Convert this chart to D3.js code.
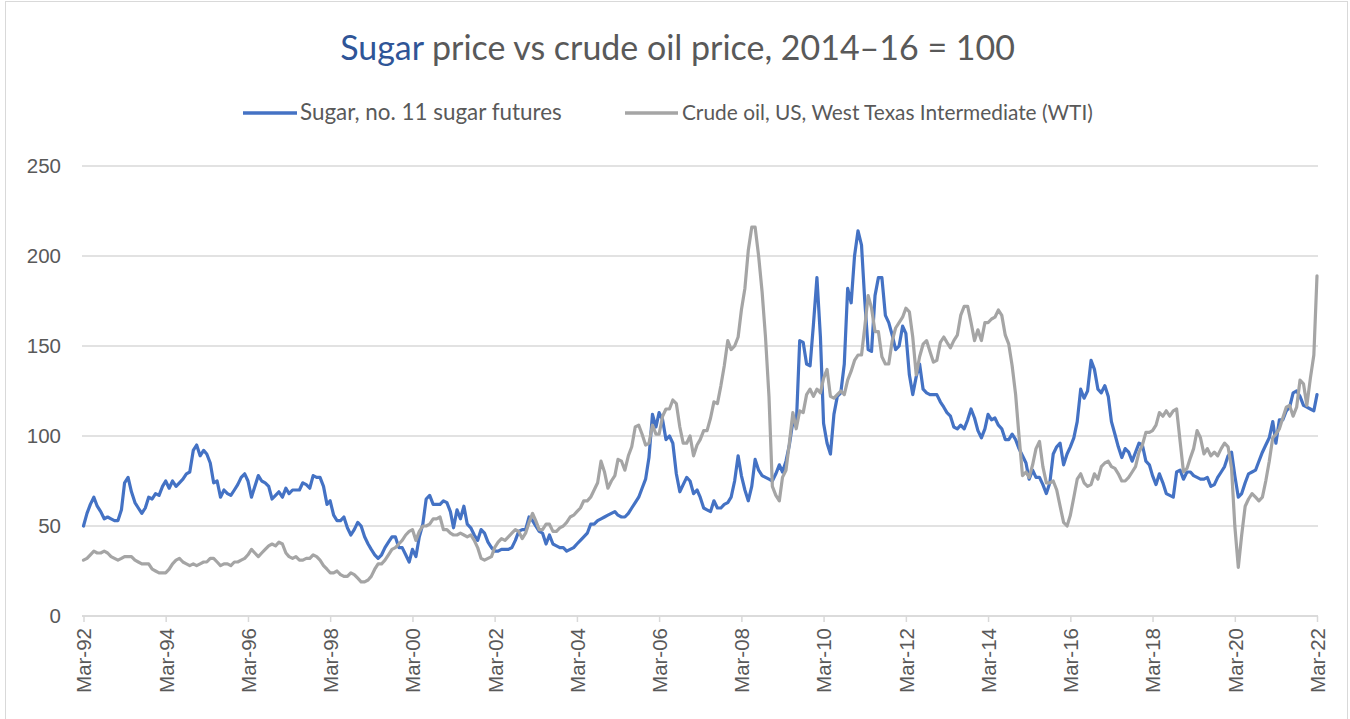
<!DOCTYPE html>
<html>
<head>
<meta charset="utf-8">
<script src="https://cdn.jsdelivr.net/npm/d3@7"></script>
<style>
  body { margin: 0; background: #ffffff; }
  svg { display: block; }
</style>
</head>
<body>
<svg id="chart" width="1350" height="719"></svg>
<script>
// Monthly index values (2014–16 = 100), first month Mar-92, last month Mar-22
const startYear = 1992;
const startMonthIndex = 2; // March

const sugar = [
  50, 57, 62, 66, 61, 58, 54, 55, 54, 53, 53, 59,
  74, 77, 69, 63, 60, 57, 60, 66, 65, 68, 67, 72,
  75, 71, 75, 72, 74, 76, 79, 80, 92, 95, 89, 92,
  90, 85, 74, 75, 66, 70, 68, 67, 70, 73, 77, 79,
  75, 66, 72, 78, 75, 74, 72, 65, 67, 69, 66, 71,
  68, 70, 70, 70, 74, 73, 71, 78, 77, 77, 72, 62,
  64, 56, 53, 53, 55, 49, 45, 48, 52, 50, 44, 40,
  37, 34, 32, 34, 38, 41, 44, 44, 38, 38, 34, 30,
  37, 33, 44, 51, 65, 67, 62, 62, 62, 64, 63, 58,
  49, 59, 54, 61, 51, 49, 45, 42, 48, 46, 41, 38,
  36, 36, 37, 37, 37, 38, 42, 47, 48, 48, 55, 53,
  50, 47, 46, 40, 45, 40, 39, 38, 38, 36, 37, 38,
  40, 42, 44, 46, 51, 51, 53, 54, 55, 56, 57, 58,
  56, 55, 55, 57, 60, 63, 66, 71, 76, 88, 112, 105,
  113, 109, 98, 100, 96, 79, 69, 73, 77, 75, 68, 70,
  66, 60, 59, 58, 64, 60, 60, 62, 63, 66, 75, 89,
  78, 70, 64, 72, 87, 81, 78, 77, 76, 75, 79, 84,
  80, 86, 95, 108, 105, 153, 152, 140, 139, 162, 188, 155,
  107, 96, 90, 112, 122, 124, 140, 182, 174, 200, 214, 206,
  176, 148, 147, 178, 188, 188, 167, 163, 156, 148, 150, 161,
  157, 134, 123, 133, 140, 126, 124, 123, 123, 123, 119, 116,
  113, 111, 105, 104, 106, 104, 109, 115, 110, 103, 99, 104,
  112, 109, 110, 106, 104, 98, 98, 101, 98, 93, 89, 85,
  76, 81, 77, 77, 73, 68, 74, 90, 94, 96, 84, 90,
  94, 99, 108, 126, 121, 125, 142, 137, 126, 124, 128, 122,
  108, 101, 94, 88, 93, 91, 86, 91, 96, 95, 86, 84,
  78, 73, 79, 74, 68, 67, 66, 80, 81, 76, 80, 80,
  78, 77, 76, 76, 77, 72, 73, 77, 80, 83, 89, 91,
  78, 66, 68, 74, 79, 80, 81, 86, 91, 95, 99, 108,
  96, 109, 109, 114, 116, 124, 125, 122, 117, 116, 115, 114,
  123
];

const oil = [
  31, 32, 34, 36, 35, 35, 36, 35, 33, 32, 31, 32,
  33, 33, 33, 31, 30, 29, 29, 29, 26, 25, 24, 24,
  24, 26, 29, 31, 32, 30, 29, 28, 29, 28, 29, 30,
  30, 32, 32, 30, 28, 29, 29, 28, 30, 30, 31, 32,
  34, 37, 35, 33, 35, 37, 39, 40, 39, 41, 40, 35,
  33, 32, 33, 31, 31, 32, 32, 34, 33, 31, 28, 26,
  24, 24, 25, 23, 22, 22, 24, 23, 21, 19, 19, 20,
  22, 26, 29, 29, 31, 34, 37, 38, 40, 42, 45, 47,
  48, 42, 47, 50, 50, 51, 54, 54, 55, 48, 48, 46,
  45, 45, 46, 45, 44, 45, 42, 38, 32, 31, 32, 33,
  38, 41, 43, 42, 44, 46, 48, 47, 43, 46, 52, 57,
  53, 48, 48, 51, 51, 47, 47, 49, 50, 52, 55, 56,
  58, 60, 64, 64, 66, 70, 74, 86, 80, 71, 75, 78,
  87, 86, 81, 89, 94, 105, 106, 101, 95, 96, 106, 101,
  101, 111, 115, 115, 120, 118, 105, 96, 96, 100, 89, 95,
  98, 103, 103, 110, 119, 118, 128, 139, 153, 148, 150, 155,
  170, 182, 203, 216, 216, 200, 180, 155, 122, 72, 67, 64,
  77, 81, 96, 113, 104, 114, 113, 123, 126, 122, 126, 124,
  132, 137, 122, 121, 123, 125, 123, 131, 136, 142, 145, 145,
  160, 178, 171, 158, 158, 144, 140, 140, 153, 160, 163, 166,
  171, 169, 155, 134, 144, 151, 153, 147, 141, 142, 152, 155,
  152, 149, 153, 156, 167, 172, 172, 163, 153, 159, 153, 163,
  163, 165, 166, 170, 167, 156, 151, 139, 123, 100, 78, 80,
  77, 84, 93, 97, 83, 74, 74, 75, 70, 61, 52, 50,
  56, 66, 76, 79, 74, 72, 73, 79, 76, 83, 85, 86,
  83, 82, 79, 75, 75, 77, 80, 83, 91, 95, 102, 102,
  103, 106, 113, 111, 114, 111, 114, 115, 97, 80, 82, 88,
  93, 103, 99, 90, 93, 89, 91, 89, 93, 96, 94, 82,
  50, 27, 45, 61, 65, 68, 66, 64, 66, 75, 86, 99,
  101, 104, 110, 116, 117, 111, 116, 131, 129, 117, 132, 145,
  189
];

const yTicks = [0, 50, 100, 150, 200, 250];
const xTickLabels = ["Mar-92", "Mar-94", "Mar-96", "Mar-98", "Mar-00", "Mar-02", "Mar-04", "Mar-06",
                     "Mar-08", "Mar-10", "Mar-12", "Mar-14", "Mar-16", "Mar-18", "Mar-20", "Mar-22"];
const seriesNames = ["Sugar, no. 11 sugar futures", "Crude oil, US, West Texas Intermediate (WTI)"];
const seriesColors = ["#4472C4", "#A5A5A5"];
const titleHighlight = "Sugar";
const titleRest = " price vs crude oil price, 2014\u201316 = 100";

const textColor = "#595959";
const gridColor = "#D9D9D9";
const uiFont = "Lato, 'Open Sans', sans-serif";
const axisFont = "'Liberation Sans', Arial, sans-serif";

const svg = d3.select("#chart");

// Outer chart frame
svg.append("rect")
  .attr("x", 5.5).attr("y", 1.5)
  .attr("width", 1342).attr("height", 760)
  .attr("fill", "none").attr("stroke", gridColor).attr("stroke-width", 1);

const months = sugar.map((_, i) => new Date(startYear, startMonthIndex + i, 1));

const x = d3.scaleTime()
  .domain([months[0], months[months.length - 1]])
  .range([83.5, 1317]);
const y = d3.scaleLinear().domain([0, 250]).range([616, 166]);

const plotLeft = 82, plotRight = 1318;

// Horizontal gridlines
svg.append("g").selectAll("line")
  .data(yTicks)
  .join("line")
  .attr("x1", plotLeft).attr("x2", plotRight)
  .attr("y1", d => y(d)).attr("y2", d => y(d))
  .attr("stroke", gridColor).attr("stroke-width", 1.5);

// Y axis labels
const yAxis = d3.axisLeft(y).tickValues(yTicks).tickSize(0).tickPadding(0);
const yG = svg.append("g").attr("transform", "translate(61,0)").call(yAxis);
yG.select(".domain").remove();
yG.selectAll("text")
  .attr("font-family", axisFont).attr("font-size", 20.5)
  .attr("fill", textColor).attr("dy", "0.34em");

// X axis: ticks every two years, labels rotated
const xTickValues = xTickLabels.map((_, k) => new Date(startYear + 2 * k, startMonthIndex, 1));
const xAxis = d3.axisBottom(x)
  .tickValues(xTickValues)
  .tickFormat((d, k) => xTickLabels[k])
  .tickSize(6).tickPadding(0);
const xG = svg.append("g").attr("transform", "translate(0,616)").call(xAxis);
xG.select(".domain").attr("stroke", gridColor).attr("stroke-width", 1.5)
  .attr("d", `M${plotLeft},0H${plotRight}`);
xG.selectAll(".tick line").attr("stroke", gridColor).attr("stroke-width", 1.5);
xG.selectAll("text")
  .attr("font-family", axisFont).attr("font-size", 20.5)
  .attr("fill", textColor)
  .attr("text-anchor", "end")
  .attr("transform", "rotate(-90)")
  .attr("x", -12).attr("y", 0).attr("dy", "0.36em");

// Series lines
const line = d3.line()
  .x((d, i) => x(months[i]))
  .y(d => y(d));

[sugar, oil].forEach((values, k) => {
  svg.append("path")
    .datum(values)
    .attr("fill", "none")
    .attr("stroke", seriesColors[k])
    .attr("stroke-width", 3.2)
    .attr("stroke-linejoin", "round")
    .attr("stroke-linecap", "round")
    .attr("d", line);
});

// Size a text element so that it spans a given width
function fitWidth(sel, target) {
  const w = sel.node().getComputedTextLength();
  const fs = parseFloat(sel.attr("font-size"));
  sel.attr("font-size", fs * target / w);
}

// Title
const title = svg.append("text")
  .attr("x", 677.5).attr("y", 60)
  .attr("text-anchor", "middle")
  .attr("font-family", uiFont).attr("font-size", 28)
  .attr("fill", textColor);
title.append("tspan").attr("fill", "#2F5597").text(titleHighlight);
title.append("tspan").text(titleRest);
fitWidth(title, 675);

// Legend
const legendItems = [
  { x1: 243, x2: 297, tx: 300, width: 262 },
  { x1: 625, x2: 678, tx: 682, width: 411 }
];
legendItems.forEach((it, k) => {
  svg.append("line")
    .attr("x1", it.x1).attr("x2", it.x2)
    .attr("y1", 113).attr("y2", 113)
    .attr("stroke", seriesColors[k]).attr("stroke-width", 3.5);
  const t = svg.append("text")
    .attr("x", it.tx).attr("y", 120)
    .attr("font-family", uiFont).attr("font-size", 19)
    .attr("fill", textColor)
    .text(seriesNames[k]);
  fitWidth(t, it.width);
});
</script>
</body>
</html>
